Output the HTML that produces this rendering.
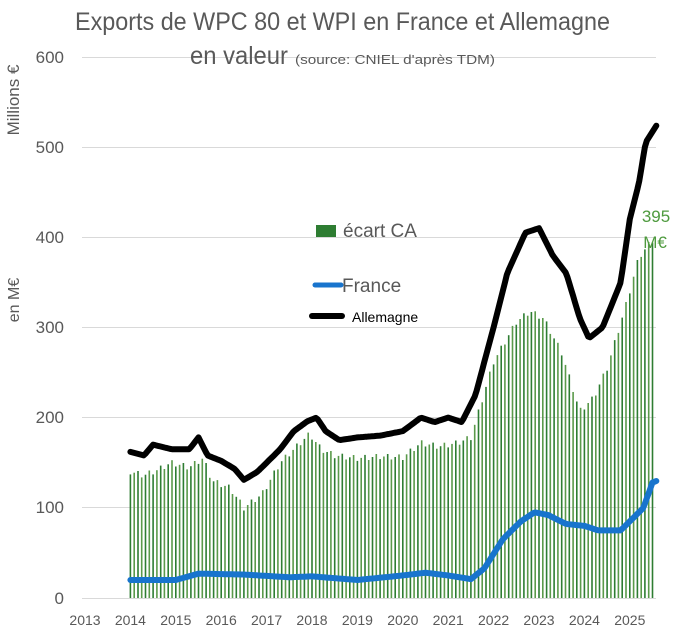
<!DOCTYPE html>
<html><head><meta charset="utf-8"><style>
html,body{margin:0;padding:0;background:#fff;}
svg{display:block;font-family:"Liberation Sans Narrow","Liberation Sans",sans-serif;}
</style></head><body>
<svg id="c" width="678" height="635" xmlns="http://www.w3.org/2000/svg">
<g stroke="#d9d9d9" stroke-width="1">
<line x1="82" x2="656" y1="57.5" y2="57.5"/><line x1="82" x2="656" y1="147.5" y2="147.5"/>
<line x1="82" x2="656" y1="237.5" y2="237.5"/><line x1="82" x2="656" y1="327.5" y2="327.5"/>
<line x1="82" x2="656" y1="417.5" y2="417.5"/><line x1="82" x2="656" y1="507.5" y2="507.5"/>
<line x1="82" x2="656" y1="598.5" y2="598.5"/>
</g>
<g id="bars"></g>
<path id="fr" fill="none" stroke="#1874cd" stroke-width="6" stroke-linejoin="round" stroke-linecap="round"/>
<path id="de" fill="none" stroke="#000" stroke-width="6" stroke-linejoin="round" stroke-linecap="round"/>
<g fill="#595959" font-size="17" text-anchor="end">
<text x="64" y="63">600</text><text x="64" y="153">500</text><text x="64" y="243">400</text>
<text x="64" y="333">300</text><text x="64" y="423">200</text><text x="64" y="513">100</text><text x="64" y="604">0</text>
</g>
<g fill="#595959" font-size="14" text-anchor="middle" font-family="Liberation Sans,sans-serif" id="xl"></g>
<text transform="translate(19,100) rotate(-90)" text-anchor="middle" font-size="17" fill="#595959" font-family="Liberation Sans,sans-serif">Millions €</text>
<text transform="translate(19,300) rotate(-90)" text-anchor="middle" font-size="16" fill="#595959" font-family="Liberation Sans,sans-serif">en M€</text>
<text x="75" y="30" font-size="25" fill="#595959" textLength="535" lengthAdjust="spacingAndGlyphs">Exports de WPC 80 et WPI en France et Allemagne</text>
<text x="190" y="64" font-size="25" fill="#595959" textLength="98" lengthAdjust="spacingAndGlyphs">en valeur</text>
<text x="295" y="64" font-size="13" fill="#595959" textLength="200" lengthAdjust="spacingAndGlyphs">(source: CNIEL d'après TDM)</text>
<rect x="316" y="225" width="20" height="12" fill="#2e7d32"/>
<text x="343" y="237" font-size="19" fill="#595959" font-family="Liberation Sans,sans-serif">écart CA</text>
<line x1="315" y1="285" x2="341" y2="285" stroke="#1874cd" stroke-width="5" stroke-linecap="round"/>
<text x="342" y="292" font-size="19" fill="#595959" font-family="Liberation Sans,sans-serif">France</text>
<line x1="312" y1="316" x2="342" y2="316" stroke="#000" stroke-width="6" stroke-linecap="round"/>
<text x="352" y="322" font-size="14" fill="#000" font-family="Liberation Sans,sans-serif">Allemagne</text>
<text x="656" y="222" font-size="17" fill="#4e9a3e" text-anchor="middle" font-family="Liberation Sans,sans-serif">395</text>
<text x="655" y="248" font-size="17" fill="#4e9a3e" text-anchor="middle" font-family="Liberation Sans,sans-serif">M€</text>
</svg>
<script>
var X=function(t){return 85+(t-2013)*45.4;},Y=function(v){return 598-v*0.902;};
function interp(k,t){for(var i=0;i<k.length-1;i++){if(t<=k[i+1][0]){var a=k[i],b=k[i+1];return a[1]+(b[1]-a[1])*(t-a[0])/(b[0]-a[0]);}}return k[k.length-1][1];}
var bars=[[2014,140],[2014.3,136],[2014.6,142],[2014.9,150],[2015.3,145],[2015.6,155],[2015.8,130],[2016.2,122],[2016.5,100],[2016.9,115],[2017.3,150],[2017.7,170],[2017.95,182],[2018.2,165],[2018.5,158],[2019,155],[2019.5,157],[2020,156],[2020.4,172],[2020.8,168],[2021.2,172],[2021.5,178],[2022,262],[2022.5,306],[2022.8,318],[2023.1,310],[2023.5,272],[2023.9,207],[2024.2,222],[2024.5,255],[2024.9,322],[2025.2,378],[2025.5,397]];
var de=[[2014,162],[2014.3,158],[2014.5,170],[2014.9,165],[2015.3,165],[2015.5,178],[2015.7,158],[2016,152],[2016.3,143],[2016.5,131],[2016.8,140],[2017.3,165],[2017.6,185],[2017.9,196],[2018.1,200],[2018.3,185],[2018.6,175],[2019,178],[2019.5,180],[2020,185],[2020.4,200],[2020.7,195],[2021,200],[2021.3,195],[2021.6,225],[2022,300],[2022.3,360],[2022.7,405],[2023,410],[2023.3,380],[2023.6,360],[2023.9,310],[2024.1,288],[2024.4,300],[2024.8,350],[2025,420],[2025.2,460],[2025.35,505],[2025.6,525]];
var fr=[[2014,20],[2015,20],[2015.5,27],[2016.5,26],[2017.5,23],[2018,24],[2019,20],[2020,25],[2020.5,28],[2021,25],[2021.5,21],[2021.8,33],[2022.2,65],[2022.6,85],[2022.9,95],[2023.2,92],[2023.6,82],[2024,80],[2024.3,75],[2024.8,75],[2025,85],[2025.3,100],[2025.5,128],[2025.6,130]];
var s='';for(var m=0;m<139;m++){var t=2014+m/12;var v=interp(bars,t)+((m%3)-1)*3;var x=X(t);s+='<rect x="'+(x-0.8).toFixed(1)+'" y="'+Y(v).toFixed(1)+'" width="1.6" height="'+(598-Y(v)).toFixed(1)+'" fill="'+(m%2?'#5a9a4a':'#2e7d32')+'"/>';}
document.getElementById('bars').innerHTML=s;
function path(k){var d='';for(var t=k[0][0];t<=k[k.length-1][0]+0.001;t+=1/24){d+=(d?'L':'M')+X(t).toFixed(1)+','+Y(interp(k,t)).toFixed(1);}return d;}
document.getElementById('de').setAttribute('d',path(de));document.getElementById('fr').setAttribute('d',path(fr));
var xl='';for(var y=2013;y<=2025;y++)xl+='<text x="'+X(y)+'" y="625">'+y+'</text>';document.getElementById('xl').innerHTML=xl;
</script>
</body></html>
